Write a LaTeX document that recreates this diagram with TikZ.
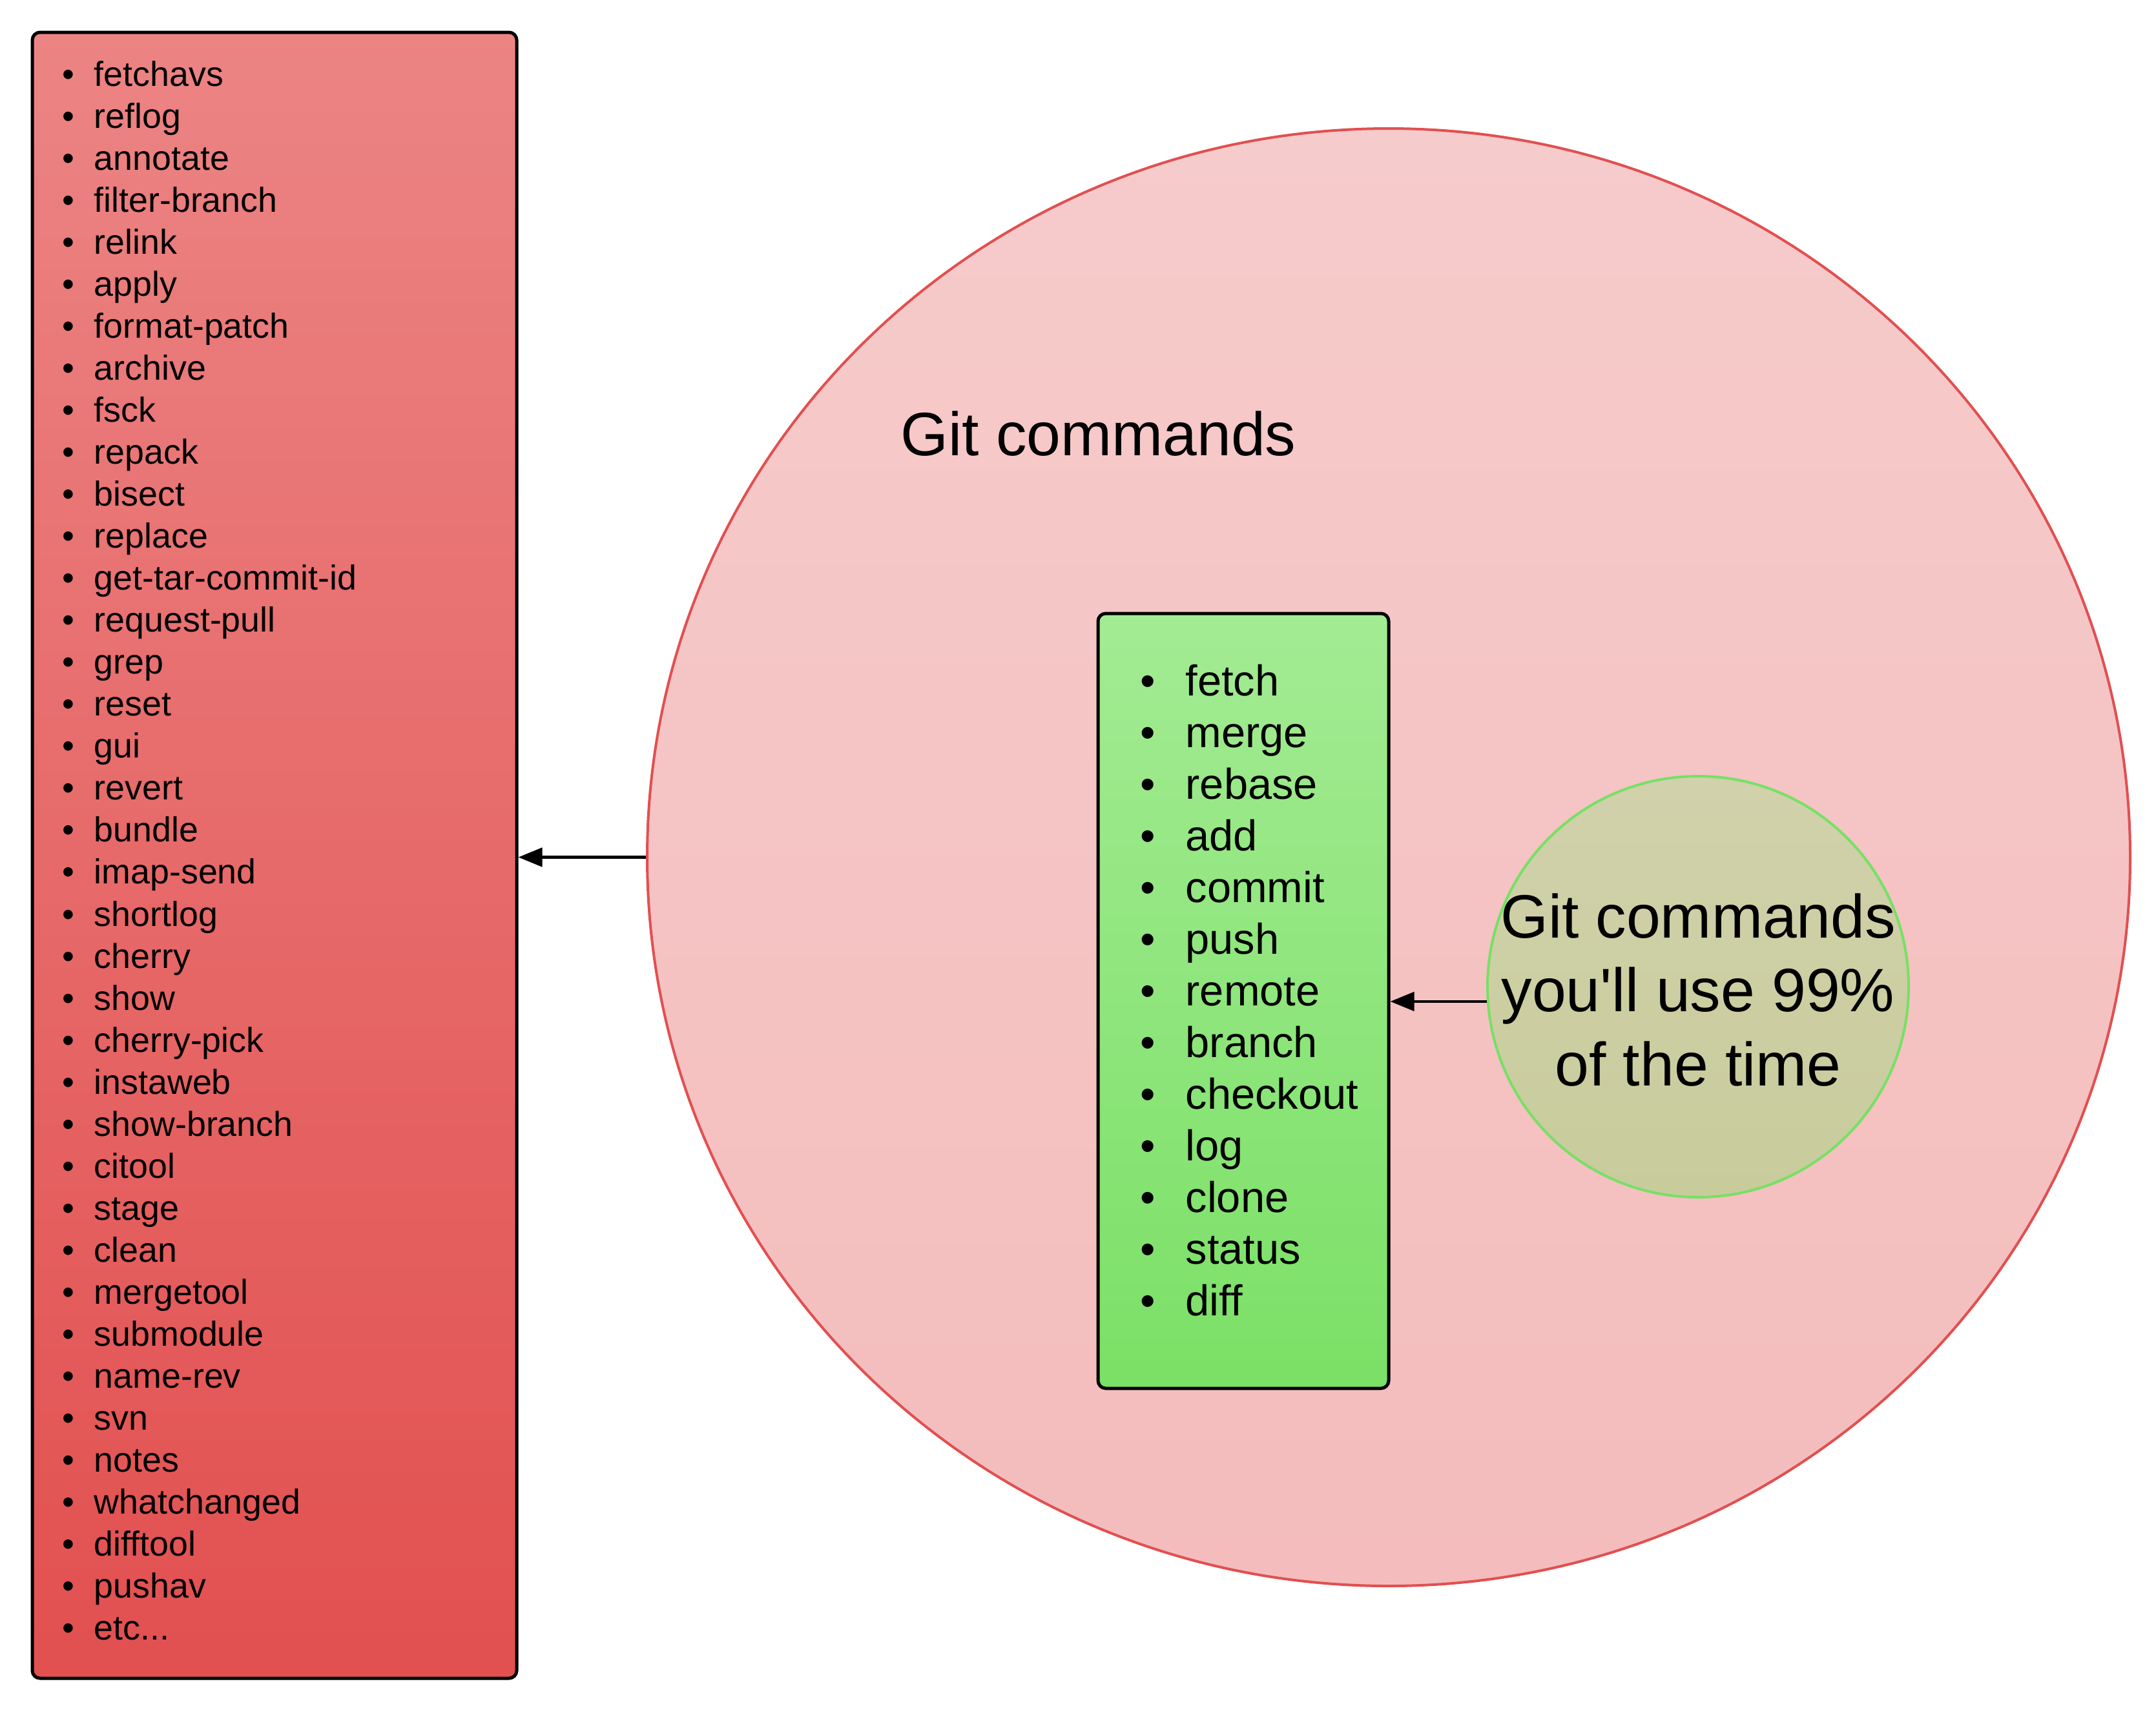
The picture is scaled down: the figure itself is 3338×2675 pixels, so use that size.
\documentclass[tikz,border=0pt]{standalone}
\usepackage{fontspec}
\setmainfont{Liberation Sans}[Ligatures=TeXOff]
\usetikzlibrary{arrows.meta,shapes.geometric}

\definecolor{redtop}{HTML}{EC8484}
\definecolor{redbot}{HTML}{E25050}
\definecolor{pinktop}{HTML}{F6CBCB}
\definecolor{pinkbot}{HTML}{F4BCBC}
\definecolor{pinkline}{HTML}{E24F50}
\definecolor{greentop}{HTML}{A3EB93}
\definecolor{greenbot}{HTML}{7BE066}
\definecolor{olivetop}{HTML}{D1D1AB}
\definecolor{olivebot}{HTML}{C8CC9B}
\definecolor{oliveline}{HTML}{77E066}

\newcommand\etcitem{etc...}

\tikzset{
  listbox/.style={draw=black, line width=0.5mm, rounded corners=1.2mm, inner sep=0pt},
  cmdarrow/.style={line width=0.45mm, -{Triangle[length=3.7mm,width=2.9mm]}},
  dot/.style={anchor=base, inner sep=0pt},
  cmd/.style={anchor=base west, inner sep=0pt},
  smallfont/.style={font=\fontsize{15.3}{18.5}\selectfont},
  midfont/.style={font=\fontsize{19}{22.8}\selectfont},
  bigfont/.style={font=\fontsize{27}{32.7}\selectfont},
}

\begin{document}
\begin{tikzpicture}[x=0.1mm, y=-0.1mm]
\useasboundingbox (0,0) rectangle (3338,2675);

% all the commands
\node[ellipse, draw=pinkline, line width=0.4mm, top color=pinktop, bottom color=pinkbot,
  minimum width=229.6mm, minimum height=225.7mm, inner sep=0pt] (all) at (2150,1327.5) {};
\node[bigfont, anchor=base west, inner sep=0pt] (alllabel) at (1394,705) {Git commands};

% rarely used ones
\node[listbox, top color=redtop, bottom color=redbot,
  minimum width=75mm, minimum height=254.9mm] (rare) at (425,1324.5) {};
\foreach \cmdname [count=\i from 0] in {fetchavs, reflog, annotate, filter-branch, relink,
  apply, format-patch, archive, fsck, repack, bisect, replace, get-tar-commit-id,
  request-pull, grep, reset, gui, revert, bundle, imap-send, shortlog, cherry, show,
  cherry-pick, instaweb, show-branch, citool, stage, clean, mergetool, submodule,
  name-rev, svn, notes, whatchanged, difftool, pushav, \etcitem}
{
  \node[dot, smallfont] at (106,{133+65.05*\i}) {•};
  \node[cmd, smallfont] (rare\i) at (145,{133+65.05*\i}) {\cmdname};
}

% daily ones
\node[listbox, top color=greentop, bottom color=greenbot,
  minimum width=45mm, minimum height=120mm] (daily) at (1925,1550) {};
\foreach \cmdname [count=\i from 0] in {fetch, merge, rebase, add, commit, push, remote,
  branch, checkout, log, clone, status, diff}
{
  \node[dot, midfont] at (1777,{1077+80*\i}) {•};
  \node[cmd, midfont] (daily\i) at (1835,{1077+80*\i}) {\cmdname};
}

% the 99% circle
\node[circle, draw=oliveline, line width=0.4mm, top color=olivetop, bottom color=olivebot,
  minimum size=65.2mm, inner sep=0pt] (often) at (2629,1528) {};
\node[bigfont, align=center, inner sep=0pt] (oftenlabel) at (2629,1533)
  {Git commands\\you'll use 99\%\\of the time};

% arrows
\draw[cmdarrow] (all.west) -- (all.west -| rare.east);
\draw[cmdarrow] (often.184.6) -- (often.184.6 -| daily.east);
\end{tikzpicture}
\end{document}
